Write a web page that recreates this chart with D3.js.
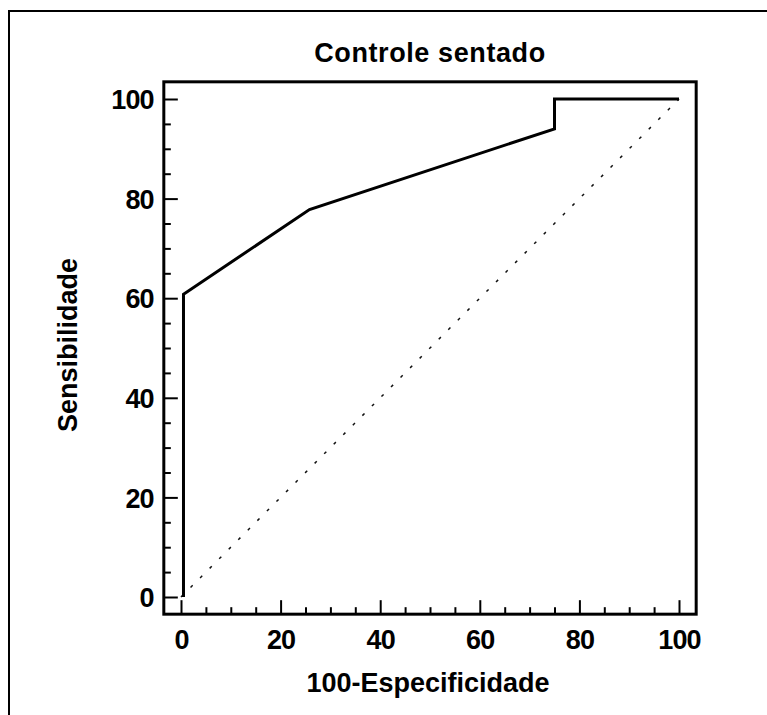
<!DOCTYPE html>
<html>
<head>
<meta charset="utf-8">
<script src="https://cdn.jsdelivr.net/npm/d3@7"></script>
<style>
  html, body { margin: 0; padding: 0; background: #fff; }
  svg { display: block; }
  text { font-family: "Liberation Sans", Arial, sans-serif; font-weight: bold; fill: #000; }
</style>
</head>
<body>
<svg id="chart" width="767" height="715"></svg>
<script>
// ROC curve: false positive rate (100 - specificity) vs. sensitivity, in %
const rocFpr  = [0.5, 0.5, 25.8, 75, 75, 100];
const rocSens = [0, 60.8, 77.8, 94, 100, 100];

// Reference (chance) diagonal
const diagFpr  = [0, 100];
const diagSens = [0, 100];

const majorTicks = [0, 20, 40, 60, 80, 100];
const minorTicks = [5, 10, 15, 25, 30, 35, 45, 50, 55, 65, 70, 75, 85, 90, 95];

const titleText = "Controle sentado";
const xTitle = "100-Especificidade";
const yTitle = "Sensibilidade";

(function () {
  const svg = d3.select("#chart");
  const W = 767, H = 715;

  // Outer picture border (top and left edges)
  svg.append("path")
    .attr("d", `M9,${H} V11 H${W}`)
    .attr("fill", "none")
    .attr("stroke", "#000")
    .attr("stroke-width", 2);

  const x = d3.scaleLinear().domain([0, 100]).range([181, 679]);
  const y = d3.scaleLinear().domain([0, 100]).range([597, 99]);
  const pad = 3.45; // frame padding in data units

  const fLeft = x(-pad), fRight = x(100 + pad), fTop = y(100 + pad), fBottom = y(-pad);

  // Plot frame
  svg.append("rect")
    .attr("x", fLeft).attr("y", fTop)
    .attr("width", fRight - fLeft).attr("height", fBottom - fTop)
    .attr("fill", "none")
    .attr("stroke", "#000")
    .attr("stroke-width", 3);

  const fontSize = 27;

  // X axis: major ticks with labels, minor ticks without
  const xMajor = svg.append("g")
    .attr("transform", `translate(0,${fBottom})`)
    .call(d3.axisBottom(x).tickValues(majorTicks).tickSize(-14).tickPadding(16).tickFormat(d3.format("d")));
  const xMinor = svg.append("g")
    .attr("transform", `translate(0,${fBottom})`)
    .call(d3.axisBottom(x).tickValues(minorTicks).tickSize(-7).tickFormat(""));

  // Y axis
  const yMajor = svg.append("g")
    .attr("transform", `translate(${fLeft},0)`)
    .call(d3.axisLeft(y).tickValues(majorTicks).tickSize(-14).tickPadding(10).tickFormat(d3.format("d")));
  const yMinor = svg.append("g")
    .attr("transform", `translate(${fLeft},0)`)
    .call(d3.axisLeft(y).tickValues(minorTicks).tickSize(-7).tickFormat(""));

  [xMajor, xMinor, yMajor, yMinor].forEach(g => {
    g.select(".domain").remove();
    g.selectAll(".tick line").attr("stroke", "#000").attr("stroke-width", 2);
    g.selectAll(".tick text")
      .attr("font-family", "Liberation Sans, Arial, sans-serif")
      .attr("font-weight", "bold")
      .attr("font-size", fontSize)
      .attr("letter-spacing", -0.8)
      .attr("fill", "#000");
  });
  yMajor.selectAll(".tick text").attr("dy", "0.36em");

  // Chance diagonal (dotted)
  const diag = diagFpr.map((d, i) => [d, diagSens[i]]);
  svg.append("path")
    .datum(diag)
    .attr("d", d3.line().x(d => x(d[0])).y(d => y(d[1])))
    .attr("fill", "none")
    .attr("stroke", "#111")
    .attr("stroke-width", 1.5)
    .attr("stroke-dasharray", "3,10.5");

  // ROC curve
  const roc = rocFpr.map((d, i) => [d, rocSens[i]]);
  svg.append("path")
    .datum(roc)
    .attr("d", d3.line().x(d => x(d[0])).y(d => y(d[1])))
    .attr("fill", "none")
    .attr("stroke", "#000")
    .attr("stroke-width", 3)
    .attr("stroke-linejoin", "miter");

  // Title and axis titles
  svg.append("text")
    .attr("x", (fLeft + fRight) / 2).attr("y", 62)
    .attr("text-anchor", "middle")
    .attr("font-size", fontSize)
    .attr("letter-spacing", 0.6)
    .text(titleText);

  svg.append("text")
    .attr("x", 428).attr("y", 692)
    .attr("text-anchor", "middle")
    .attr("font-size", fontSize)
    .text(xTitle);

  svg.append("text")
    .attr("transform", `translate(77,345) rotate(-90)`)
    .attr("text-anchor", "middle")
    .attr("font-size", fontSize)
    .text(yTitle);
})();
</script>
</body>
</html>
